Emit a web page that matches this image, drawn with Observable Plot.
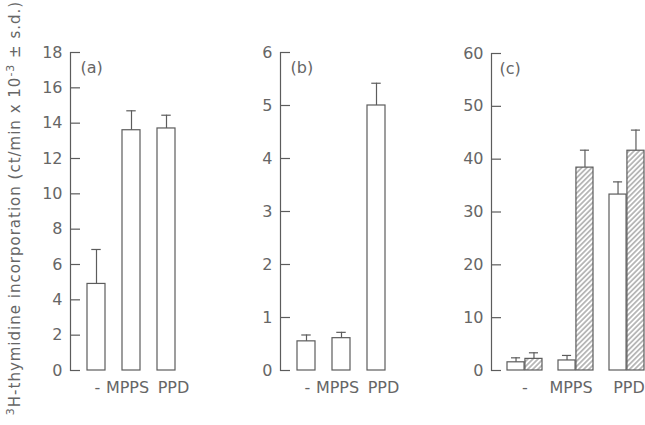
<!DOCTYPE html>
<html>
<head>
<meta charset="utf-8">
<script src="https://cdn.jsdelivr.net/npm/d3@7"></script>
<script src="https://cdn.jsdelivr.net/npm/@observablehq/plot@0.6"></script>
<style>
  html, body { margin: 0; padding: 0; background: #fff; overflow: hidden; }
  #wrap { position: relative; width: 645px; height: 425px; overflow: hidden; background: #fff; }
  .panel { position: absolute; top: 0; height: 425px; }
  .panel svg { max-width: none !important; }
  #ylab {
    position: absolute; left: 15px; top: 208px;
    transform: translate(-50%, -50%) rotate(-90deg);
    white-space: nowrap; font-family: "DejaVu Sans", sans-serif; font-size: 15px;
    color: #666; letter-spacing: 1px;
  }
  #ylab sup { font-size: 11px; vertical-align: 6px; line-height: 0; }
</style>
</head>
<body>
<div id="wrap">
  <div id="ylab"><sup>3</sup>H-thymidine incorporation (ct/min x 10<sup>-3</sup> ± s.d.)</div>
  <div id="pa" class="panel" style="left:0px;width:192px"></div>
  <div id="pb" class="panel" style="left:210px;width:192px"></div>
  <div id="pc" class="panel" style="left:421px;width:240px"></div>
</div>
<script>
// ---- data ----
const categories = ["-", "MPPS", "PPD"];

const aValues = [4.9, 13.6, 13.7];
const aSD = [1.95, 1.1, 0.75];
const aTicks = [0, 2, 4, 6, 8, 10, 12, 14, 16, 18];

const bValues = [0.55, 0.61, 5.0];
const bSD = [0.12, 0.11, 0.42];
const bTicks = [0, 1, 2, 3, 4, 5, 6];

const cOpenValues = [1.55, 1.9, 33.3];
const cOpenSD = [0.85, 0.95, 2.4];
const cHatchedValues = [2.2, 38.4, 41.6];
const cHatchedSD = [1.15, 3.3, 3.9];
const cTicks = [0, 10, 20, 30, 40, 50, 60];

const panelLetters = ["(a)", "(b)", "(c)"];

// ---- styling ----
const LINE = "#5c5c5c";
const TEXT = "#666666";
const FONT = "'DejaVu Sans', sans-serif";
const SW = 1.2;
// horizontal nudges of the category labels in panels (a) and (b)
const labelNudgeAB = [1, -4, 7];
const labelNudgeC = [0, -5, 2];

function table(values, sds) {
  return categories.map((cat, i) => ({cat, value: values[i], sd: sds[i]}));
}

function bandwidthOf(frameW, n, pi, po) {
  const step = frameW / (n - pi + 2 * po);
  return step * (1 - pi);
}

function categoryLabels(nudges) {
  return categories.map((c, i) =>
    Plot.text([c], {x: d => d, frameAnchor: "bottom", lineAnchor: "top", dy: 11, dx: nudges[i], fill: TEXT, fontSize: 16}));
}

function baseStyle() {
  return {fontFamily: FONT, fontSize: "16px", color: TEXT, background: "transparent", overflow: "visible", maxWidth: "none"};
}

function simplePanel(el, values, sds, ticks, letter) {
  const width = 192, marginLeft = 70, pi = 0.48, po = 0.45;
  const frameW = width - marginLeft;
  const bw = bandwidthOf(frameW, categories.length, pi, po);
  const cap = 10;
  const capInset = (bw - cap) / 2;
  const data = table(values, sds);
  const svg = Plot.plot({
    width, height: 425, marginTop: 52, marginBottom: 55, marginLeft, marginRight: 0,
    style: baseStyle(),
    x: {domain: categories, paddingInner: pi, paddingOuter: po, label: null, axis: null},
    y: {domain: [ticks[0], ticks[ticks.length - 1]], label: null},
    marks: [
      Plot.frame({anchor: "left", stroke: LINE, strokeWidth: SW}),
      Plot.tickY(ticks, {y: d => d, insetRight: frameW - 10, stroke: LINE, strokeWidth: SW}),
      Plot.axisY({ticks, tickSize: 0, tickPadding: 8, tickFormat: d => String(d), label: null, fill: TEXT}),
      ...categoryLabels(labelNudgeAB),
      Plot.barY(data, {x: "cat", y: "value", fill: "white", stroke: LINE, strokeWidth: SW}),
      Plot.ruleX(data, {x: "cat", y1: "value", y2: d => d.value + d.sd, stroke: LINE, strokeWidth: SW}),
      Plot.tickY(data, {x: "cat", y: d => d.value + d.sd, insetLeft: capInset, insetRight: capInset, stroke: LINE, strokeWidth: SW}),
      Plot.text([letter], {frameAnchor: "top-left", text: d => d, textAnchor: "start", lineAnchor: "top", dx: 10, dy: 9, fill: TEXT, fontSize: 16})
    ]
  });
  el.appendChild(svg);
}

function groupedPanel(el) {
  const width = 240, marginLeft = 70, pi = 0.31, po = 0.29;
  const frameW = width - marginLeft;
  const bw = bandwidthOf(frameW, categories.length, pi, po);
  const half = bw / 2;
  const cap = 10;
  const ci = (half - cap) / 2;
  const open = table(cOpenValues, cOpenSD);
  const hatched = table(cHatchedValues, cHatchedSD);
  const svg = Plot.plot({
    width, height: 425, marginTop: 53, marginBottom: 55, marginLeft, marginRight: 0,
    style: baseStyle(),
    x: {domain: categories, paddingInner: pi, paddingOuter: po, label: null, axis: null},
    y: {domain: [cTicks[0], cTicks[cTicks.length - 1]], label: null},
    marks: [
      Plot.frame({anchor: "left", stroke: LINE, strokeWidth: SW}),
      Plot.tickY(cTicks, {y: d => d, insetRight: frameW - 10, stroke: LINE, strokeWidth: SW}),
      Plot.axisY({ticks: cTicks, tickSize: 0, tickPadding: 8, tickFormat: d => String(d), label: null, fill: TEXT}),
      ...categoryLabels(labelNudgeC),
      Plot.barY(open, {x: "cat", y: "value", fill: "white", stroke: LINE, strokeWidth: SW, insetRight: half}),
      Plot.barY(hatched, {x: "cat", y: "value", fill: "url(#hatch)", stroke: LINE, strokeWidth: SW, insetLeft: half}),
      Plot.ruleX(open, {x: "cat", y1: "value", y2: d => d.value + d.sd, stroke: LINE, strokeWidth: SW, dx: -half / 2}),
      Plot.ruleX(hatched, {x: "cat", y1: "value", y2: d => d.value + d.sd, stroke: LINE, strokeWidth: SW, dx: half / 2}),
      Plot.tickY(open, {x: "cat", y: d => d.value + d.sd, insetLeft: ci, insetRight: half + ci, stroke: LINE, strokeWidth: SW}),
      Plot.tickY(hatched, {x: "cat", y: d => d.value + d.sd, insetLeft: half + ci, insetRight: ci, stroke: LINE, strokeWidth: SW}),
      Plot.text([panelLetters[2]], {frameAnchor: "top-left", text: d => d, textAnchor: "start", lineAnchor: "top", dx: 8, dy: 9, fill: TEXT, fontSize: 16})
    ]
  });
  d3.select(svg).insert("defs", ":first-child").html(
    `<pattern id="hatch" patternUnits="userSpaceOnUse" width="3.6" height="3.6" patternTransform="rotate(45)">
       <rect width="3.6" height="3.6" fill="white"></rect>
       <line x1="1.8" y1="0" x2="1.8" y2="3.6" stroke="${LINE}" stroke-width="0.8"></line>
     </pattern>`);
  el.appendChild(svg);
}

simplePanel(document.getElementById("pa"), aValues, aSD, aTicks, panelLetters[0]);
simplePanel(document.getElementById("pb"), bValues, bSD, bTicks, panelLetters[1]);
groupedPanel(document.getElementById("pc"));
</script>
</body>
</html>
